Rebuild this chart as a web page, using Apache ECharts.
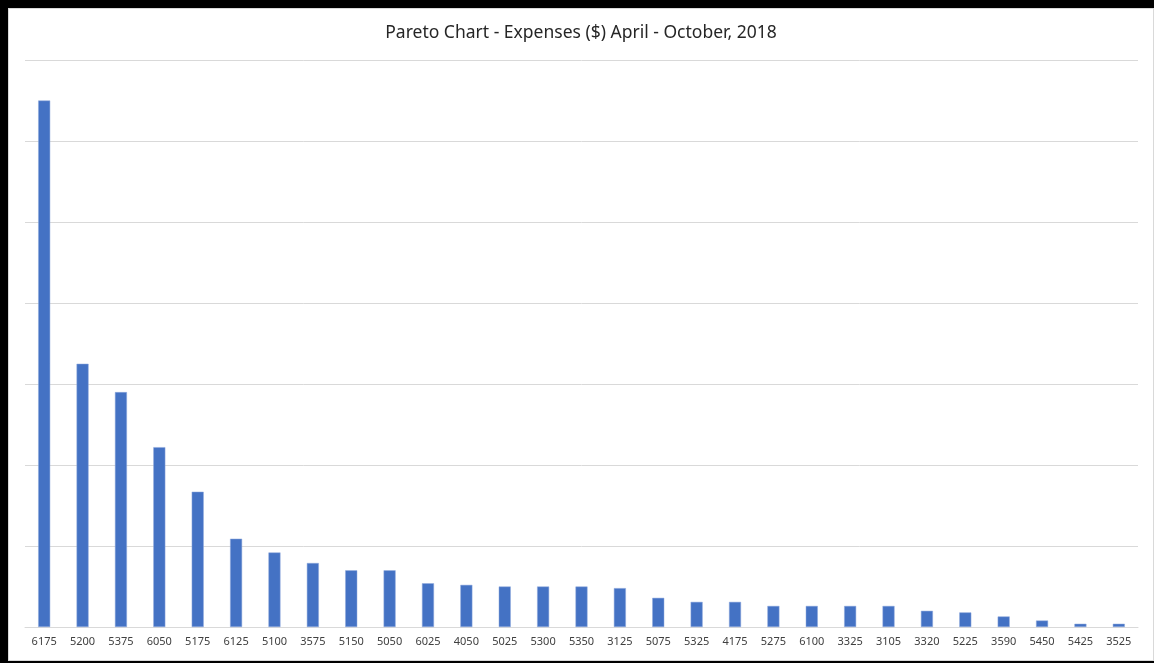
<!DOCTYPE html>
<html>
<head>
<meta charset="utf-8">
<script src="https://cdn.jsdelivr.net/npm/echarts@6/dist/echarts.min.js"></script>
<style>
  html, body { margin: 0; padding: 0; background: #000; }
  .frame { position: absolute; left: 0; top: 0; width: 1154px; height: 663px; background: #000; }
  .chart-box {
    position: absolute; left: 8px; top: 8px; width: 1144px; height: 651px;
    background: #fff; border: 1px solid #d9d9d9;
  }
  #chart { width: 1144px; height: 651px; }
</style>
</head>
<body>
<div class="frame">
  <div class="chart-box">
    <div id="chart"></div>
  </div>
</div>
<script>
// expense amounts, sorted like the Pareto chart
const categories = ['6175', '5200', '5375', '6050', '5175', '6125', '5100', '3575', '5150', '5050',
  '6025', '4050', '5025', '5300', '5350', '3125', '5075', '5325', '4175', '5275',
  '6100', '3325', '3105', '3320', '5225', '3590', '5450', '5425', '3525']
const values = [65000, 32500, 29000, 22200, 16700, 10900, 9200, 7900, 7000, 7000,
  5400, 5200, 5000, 5000, 5000, 4800, 3600, 3100, 3100, 2600,
  2600, 2600, 2600, 2000, 1800, 1300, 800, 400, 400]
const yMax = 70000
const yStep = 10000

const myChart = echarts.init(document.getElementById('chart'), null, { renderer: 'canvas' })
myChart.setOption({
  animation: false,
  color: ['#4472C4'],
  title: {
    text: 'Pareto Chart - Expenses ($) April - October, 2018',
    left: 'center',
    top: 10,
    textStyle: {
      fontFamily: 'Noto Sans',
      fontSize: 17.5,
      fontWeight: 'normal',
      color: '#262626'
    }
  },
  grid: {
    left: 16,
    width: 1113,
    top: 51,
    height: 567
  },
  xAxis: {
    type: 'category',
    data: categories,
    axisLine: { lineStyle: { color: '#d9d9d9', width: 1 } },
    axisTick: { show: false },
    axisLabel: {
      interval: 0,
      margin: 9,
      fontFamily: 'Noto Sans',
      fontSize: 11,
      color: '#404040'
    }
  },
  yAxis: {
    type: 'value',
    min: 0,
    max: yMax,
    interval: yStep,
    axisLabel: { show: false },
    axisLine: { show: false },
    axisTick: { show: false },
    splitLine: { lineStyle: { color: '#d9d9d9', width: 1 } }
  },
  series: [{
    type: 'bar',
    data: values,
    barWidth: 12,
    itemStyle: { color: '#4472C4', borderColor: '#8fa9dc', borderWidth: 0.5 }
  }]
})
</script>
</body>
</html>
